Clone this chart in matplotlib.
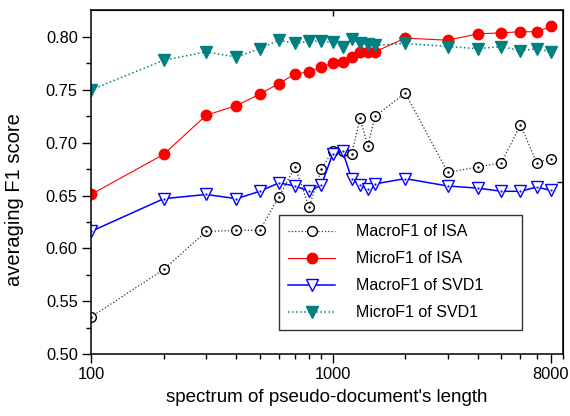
import numpy as np
import matplotlib
matplotlib.use("Agg")
import matplotlib.pyplot as plt
from matplotlib.ticker import FixedLocator, NullFormatter, FixedFormatter

plt.rcParams["font.family"] = ["Liberation Sans", "DejaVu Sans"]

# spectrum of pseudo-document's length
lengths = [100, 200, 300, 400, 500, 600, 700, 800, 900, 1000, 1100, 1200,
           1300, 1400, 1500, 2000, 3000, 4000, 5000, 6000, 7000, 8000]

macro_isa = [0.535, 0.580, 0.616, 0.617, 0.617, 0.649, 0.677, 0.639, 0.675,
             0.692, 0.692, 0.689, 0.723, 0.697, 0.725, 0.747, 0.672, 0.677,
             0.681, 0.717, 0.681, 0.685]
micro_isa = [0.651, 0.689, 0.726, 0.735, 0.746, 0.756, 0.765, 0.767, 0.772,
             0.775, 0.776, 0.781, 0.786, 0.786, 0.786, 0.799, 0.797, 0.803,
             0.804, 0.805, 0.805, 0.810]
macro_svd = [0.616, 0.647, 0.651, 0.647, 0.654, 0.662, 0.659, 0.654, 0.660,
             0.689, 0.692, 0.666, 0.660, 0.656, 0.661, 0.666, 0.659, 0.657,
             0.654, 0.654, 0.658, 0.655]
micro_svd = [0.750, 0.778, 0.786, 0.781, 0.789, 0.797, 0.794, 0.796, 0.796,
             0.795, 0.791, 0.798, 0.794, 0.793, 0.792, 0.794, 0.791, 0.789,
             0.791, 0.787, 0.789, 0.786]

labels = ["MacroF1 of ISA", "MicroF1 of ISA", "MacroF1 of SVD1", "MicroF1 of SVD1"]

fig = plt.figure(figsize=(5.7, 4.16), dpi=100)
ax = fig.add_axes([0.1596, 0.149, 0.8281, 0.827])

teal = "#008080"
h1, = ax.plot(lengths, macro_isa, ls=":", color="#333333", lw=0.9,
              marker="o", ms=7, mfc="white", mec="black", mew=1.0)
ax.plot(lengths, macro_isa, ls="none", marker=".", ms=1.5, color="black")
h2, = ax.plot(lengths, micro_isa, ls="-", color="#ff0000", lw=0.8,
              marker="o", ms=7.5, mfc="#ff0000", mec="#ff0000")
h3, = ax.plot(lengths, macro_svd, ls="-", color="#0000ff", lw=1.1,
              marker="v", ms=8, mfc="white", mec="#0000ff", mew=1.0)
ax.plot(lengths, macro_svd, ls="none", marker=".", ms=1.2, color="#0000ff")
h4, = ax.plot(lengths, micro_svd, ls=":", color=teal, lw=1.1,
              marker="v", ms=8, mfc=teal, mec=teal)

ax.set_xscale("log")
ax.set_xlim(100, 9000)
ax.set_ylim(0.50, 0.8256)

major_x = [100, 1000, 8000]
minor_x = [200, 300, 400, 500, 600, 700, 800, 900,
           2000, 3000, 4000, 5000, 6000, 7000, 9000]
ax.xaxis.set_major_locator(FixedLocator(major_x))
ax.xaxis.set_major_formatter(FixedFormatter([str(v) for v in major_x]))
ax.xaxis.set_minor_locator(FixedLocator(minor_x))
ax.xaxis.set_minor_formatter(NullFormatter())

ax.set_yticks(np.arange(0.50, 0.801, 0.05))
ax.set_yticks(np.arange(0.525, 0.80, 0.05), minor=True)
ax.yaxis.set_major_formatter(matplotlib.ticker.FormatStrFormatter("%.2f"))

ax.tick_params(which="major", direction="out", length=6.5, width=1.0,
               labelsize=11.8, pad=3)
ax.tick_params(which="minor", direction="out", length=3.5, width=1.0)
for s in ax.spines.values():
    s.set_linewidth(1.1)

# small inward ticks on top and right frame
top = ax.secondary_xaxis("top")
top.set_xticks([1000])
top.set_xticklabels([])
top.tick_params(direction="in", length=4, width=1.0)
top.xaxis.set_minor_locator(FixedLocator([]))
right = ax.secondary_yaxis("right")
right.set_yticks([0.6625])
right.set_yticklabels([])
right.tick_params(direction="in", length=4, width=1.0)
right.yaxis.set_minor_locator(FixedLocator([]))

ax.set_xlabel("spectrum of pseudo-document's length", fontsize=13.5, labelpad=5)
ax.set_ylabel("averaging F1 score", fontsize=14.5)
ax.yaxis.set_label_coords(-0.142, 0.448)

leg = ax.legend([h1, h2, h3, h4], labels, loc="lower left",
                bbox_to_anchor=(0.398, 0.07, 0.515, 0.323), mode="expand",
                borderaxespad=0, fontsize=11.5, handlelength=2.9,
                handletextpad=1.3, labelspacing=0.75, fancybox=False,
                frameon=True, edgecolor="black", borderpad=0.6)
leg.get_frame().set_linewidth(1.0)

fig.savefig("out.png", dpi=100)
